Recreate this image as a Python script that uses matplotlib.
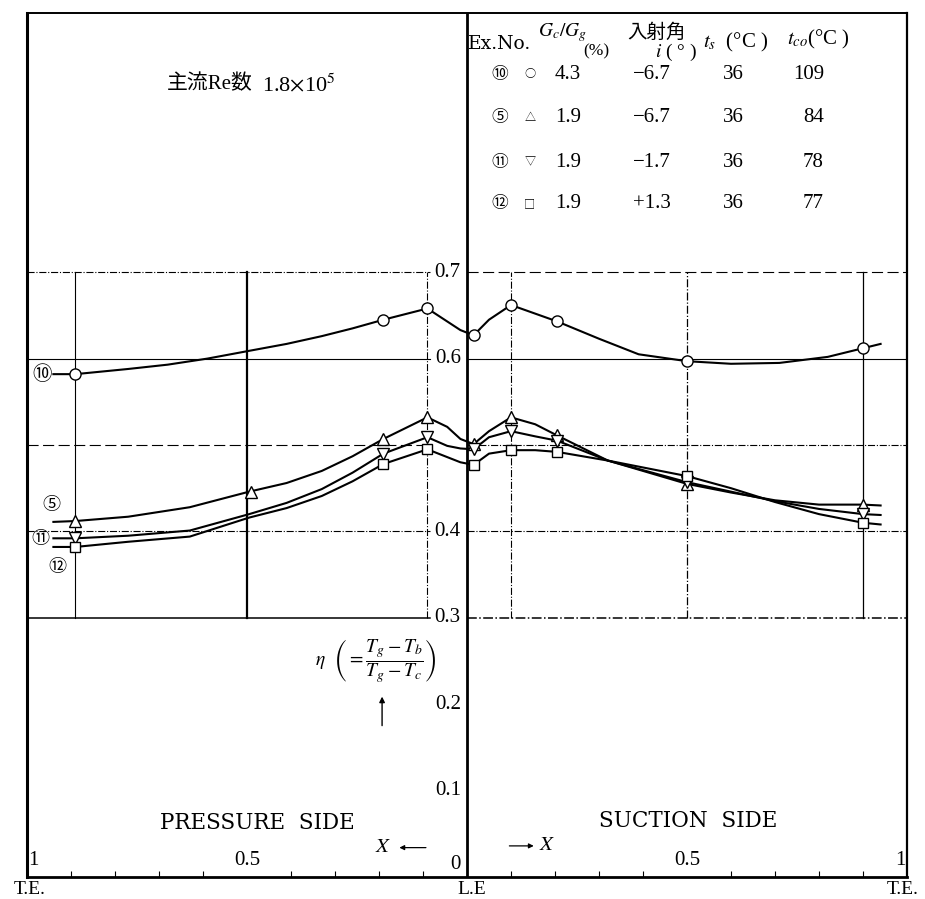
import matplotlib
matplotlib.use("Agg")
import matplotlib.pyplot as plt

plt.rcParams['font.family'] = ['Liberation Serif', 'Noto Sans CJK JP', 'DejaVu Sans']
plt.rcParams['mathtext.fontset'] = 'stix'

# chordwise position: pressure side negative (T.E. = -1), L.E. = 0, suction side positive (T.E. = +1)

# drawn curves
c10_x = [-0.94, -0.89, -0.77, -0.68, -0.59, -0.495, -0.41, -0.33, -0.26, -0.19, -0.09, -0.045, -0.015,
         0.015, 0.05, 0.10, 0.205, 0.30, 0.39, 0.50, 0.60, 0.71, 0.82, 0.90, 0.94]
c10_y = [0.582, 0.582, 0.588, 0.593, 0.600, 0.609, 0.617, 0.626, 0.635, 0.645, 0.658, 0.643, 0.633,
         0.627, 0.645, 0.662, 0.643, 0.623, 0.605, 0.597, 0.594, 0.595, 0.602, 0.612, 0.617]

c_x = [-0.94, -0.89, -0.77, -0.63, -0.495, -0.41, -0.33, -0.26, -0.19, -0.09, -0.045, -0.015,
       0.015, 0.05, 0.10, 0.155, 0.205, 0.32, 0.50, 0.60, 0.70, 0.80, 0.90, 0.94]
c5_y = [0.411, 0.412, 0.417, 0.428, 0.446, 0.456, 0.470, 0.487, 0.507, 0.532, 0.521, 0.507,
        0.501, 0.516, 0.532, 0.524, 0.511, 0.482, 0.455, 0.445, 0.436, 0.431, 0.431, 0.430]
c11_y = [0.392, 0.392, 0.395, 0.401, 0.420, 0.433, 0.449, 0.468, 0.490, 0.509, 0.499, 0.496,
         0.495, 0.509, 0.516, 0.510, 0.505, 0.482, 0.457, 0.446, 0.435, 0.426, 0.420, 0.419]
c12_y = [0.382, 0.382, 0.388, 0.394, 0.416, 0.427, 0.441, 0.458, 0.478, 0.495, 0.486, 0.480,
         0.477, 0.490, 0.494, 0.494, 0.492, 0.482, 0.464, 0.450, 0.434, 0.420, 0.410, 0.408]

# measured points
m10_x = [-0.89, -0.19, -0.09, 0.015, 0.10, 0.205, 0.50, 0.90]
m10_y = [0.582, 0.645, 0.658, 0.627, 0.662, 0.643, 0.597, 0.612]
m5_x = [-0.89, -0.49, -0.19, -0.09, 0.015, 0.10, 0.205, 0.50, 0.90]
m5_y = [0.412, 0.446, 0.507, 0.532, 0.501, 0.532, 0.511, 0.455, 0.431]
m11_x = [-0.89, -0.19, -0.09, 0.015, 0.10, 0.205, 0.50, 0.90]
m11_y = [0.392, 0.490, 0.509, 0.495, 0.516, 0.505, 0.457, 0.420]
m12_x = [-0.89, -0.19, -0.09, 0.015, 0.10, 0.205, 0.50, 0.90]
m12_y = [0.382, 0.478, 0.495, 0.477, 0.494, 0.492, 0.464, 0.410]

# table
ex_no = ['⑩', '⑤', '⑪', '⑫']
symbols = ['○', '△', '▽', '□']
gc_gg = ['4.3', '1.9', '1.9', '1.9']
incidence = ['−6.7', '−6.7', '−1.7', '+1.3']
t_s = ['36', '36', '36', '36']
t_co = ['109', '84', '78', '77']

eta_ticks = [0.7, 0.6, 0.4, 0.3, 0.2, 0.1]

fig = plt.figure(figsize=(9.25, 8.99), dpi=100)
ax = fig.add_axes([27 / 925, 22 / 899, 880 / 925, 864 / 899])
ax.set_xlim(-1, 1)
ax.set_ylim(0, 1)
ax.set_yticks([])
ax.set_xticks([-0.9, -0.8, -0.7, -0.6, -0.4, -0.3, -0.2, -0.1, 0.1, 0.2, 0.3, 0.4, 0.6, 0.7, 0.8, 0.9])
ax.tick_params(axis='x', direction='in', length=4, width=0.8, labelbottom=False)
ax.spines['left'].set_linewidth(2.2)
ax.spines['bottom'].set_linewidth(2.0)
ax.spines['top'].set_linewidth(1.4)
ax.spines['right'].set_linewidth(1.6)

# grid lines in the data band
for y, ls_l, ls_r, lw in [(0.7, '-.', (0, (10, 4)), 0.8), (0.6, '-', '-', 0.8),
                          (0.5, (0, (10, 4)), '-.', 0.8), (0.4, '-.', '-.', 0.8), (0.3, '-', '-.', 1.1)]:
    ax.plot([-1, -0.085], [y, y], color='k', ls=ls_l, lw=lw, zorder=1)
    ax.plot([0, 1], [y, y], color='k', ls=ls_r, lw=lw, zorder=1)
for x, ls, lw in [(-0.89, '-', 0.8), (-0.5, '-', 1.6), (-0.09, '-.', 0.8),
                  (0.1, '-.', 0.8), (0.5, '-.', 0.9), (0.9, '-', 0.9)]:
    ax.plot([x, x], [0.3, 0.7], color='k', ls=ls, lw=lw, zorder=1)
ax.axvline(0, color='k', lw=2.0, zorder=2)

for v in eta_ticks:
    ax.text(-0.014, v, f'{v:.1f}', ha='right', va='center', fontsize=15,
            family='Liberation Serif', zorder=5)
ax.text(-0.014, 0.004, '0', ha='right', va='bottom', fontsize=15, family='Liberation Serif')

# curves and points
for cx, cy in [(c10_x, c10_y), (c_x, c5_y), (c_x, c11_y), (c_x, c12_y)]:
    ax.plot(cx, cy, color='k', lw=1.5, zorder=3)
ax.plot(m10_x, m10_y, ls='none', marker='o', ms=8, mfc='white', mec='k', mew=1, zorder=4)
ax.plot(m5_x, m5_y, ls='none', marker='^', ms=8, mfc='white', mec='k', mew=1, zorder=4)
ax.plot(m11_x, m11_y, ls='none', marker='v', ms=8, mfc='white', mec='k', mew=1, zorder=4)
ax.plot(m12_x, m12_y, ls='none', marker='s', ms=6.5, mfc='white', mec='k', mew=1, zorder=4)

# series labels at the left
ax.text(-0.966, 0.582, '⑩', ha='center', va='center', fontsize=14, family='Noto Sans CJK JP')
ax.text(-0.945, 0.430, '⑤', ha='center', va='center', fontsize=13, family='Noto Sans CJK JP')
ax.text(-0.970, 0.391, '⑪', ha='center', va='center', fontsize=13, family='Noto Sans CJK JP')
ax.text(-0.930, 0.359, '⑫', ha='center', va='center', fontsize=13, family='Noto Sans CJK JP')

ax.text(-0.486, 0.917, '主流Re数', ha='right', va='center', fontsize=15)
ax.text(-0.466, 0.917, '1.8$\\times$10$^5$', ha='left', va='center', fontsize=16)

# table of test conditions
ax.text(0.075, 0.964, 'Ex.No.', ha='center', va='center', fontsize=13.5, family='DejaVu Serif')
ax.text(0.216, 0.977, '$G_c/G_g$', ha='center', va='center', fontsize=14)
ax.text(0.295, 0.955, '(%)', ha='center', va='center', fontsize=12.5)
ax.text(0.431, 0.978, '入射角', ha='center', va='center', fontsize=14, family='Noto Sans CJK JP')
ax.text(0.475, 0.954, '$i$ ( ° )', ha='center', va='center', fontsize=14)
ax.text(0.610, 0.966, '$t_s$  (°C )', ha='center', va='center', fontsize=15)
ax.text(0.798, 0.969, '$t_{co}$(°C )', ha='center', va='center', fontsize=15)
row_y = [0.929, 0.879, 0.827, 0.779]
for i, ry in enumerate(row_y):
    ax.text(0.075, ry, ex_no[i], ha='center', va='center', fontsize=12, family='Noto Sans CJK JP')
    ax.text(0.143, ry, symbols[i], ha='center', va='center', fontsize=8, family='Noto Sans CJK JP')
    ax.text(0.230, ry, gc_gg[i], ha='center', va='center', fontsize=15)
    ax.text(0.420, ry, incidence[i], ha='center', va='center', fontsize=15)
    ax.text(0.605, ry, t_s[i], ha='center', va='center', fontsize=15)
    ax.text(0.811, ry, t_co[i], ha='right', va='center', fontsize=15)

# eta definition with arrow
ax.text(-0.207, 0.250, r'$\eta\ \ \left(=\dfrac{T_g-T_b}{T_g-T_c}\right)$', ha='center', va='center',
        fontsize=14)
ax.annotate('', xy=(-0.193, 0.212), xytext=(-0.193, 0.172),
            arrowprops=dict(arrowstyle='-|>', lw=1.0, color='k', mutation_scale=8))

ax.text(-0.477, 0.062, 'PRESSURE  SIDE', ha='center', va='center', fontsize=15.5, family='DejaVu Serif')
ax.text(0.502, 0.065, 'SUCTION  SIDE', ha='center', va='center', fontsize=15.5, family='DejaVu Serif')

ax.text(-0.19, 0.034, '$X$', ha='center', va='center', fontsize=15)
ax.annotate('', xy=(-0.160, 0.034), xytext=(-0.087, 0.034),
            arrowprops=dict(arrowstyle='-|>', lw=0.9, color='k', mutation_scale=7))
ax.text(0.183, 0.036, '$X$', ha='center', va='center', fontsize=15)
ax.annotate('', xy=(0.158, 0.036), xytext=(0.090, 0.036),
            arrowprops=dict(arrowstyle='-|>', lw=0.9, color='k', mutation_scale=7))

# chordwise scale
for x, lab in [(-0.986, '1'), (-0.5, '0.5'), (0.5, '0.5'), (0.984, '1')]:
    ax.text(x, 0.008, lab, ha='center', va='bottom', fontsize=15, family='Liberation Serif')
ax.text(-0.993, -0.005, 'T.E.', ha='center', va='top', fontsize=14, clip_on=False)
ax.text(0.010, -0.005, 'L.E', ha='center', va='top', fontsize=14, clip_on=False)
ax.text(0.989, -0.005, 'T.E.', ha='center', va='top', fontsize=14, clip_on=False)

fig.savefig('out.png', dpi=100)
